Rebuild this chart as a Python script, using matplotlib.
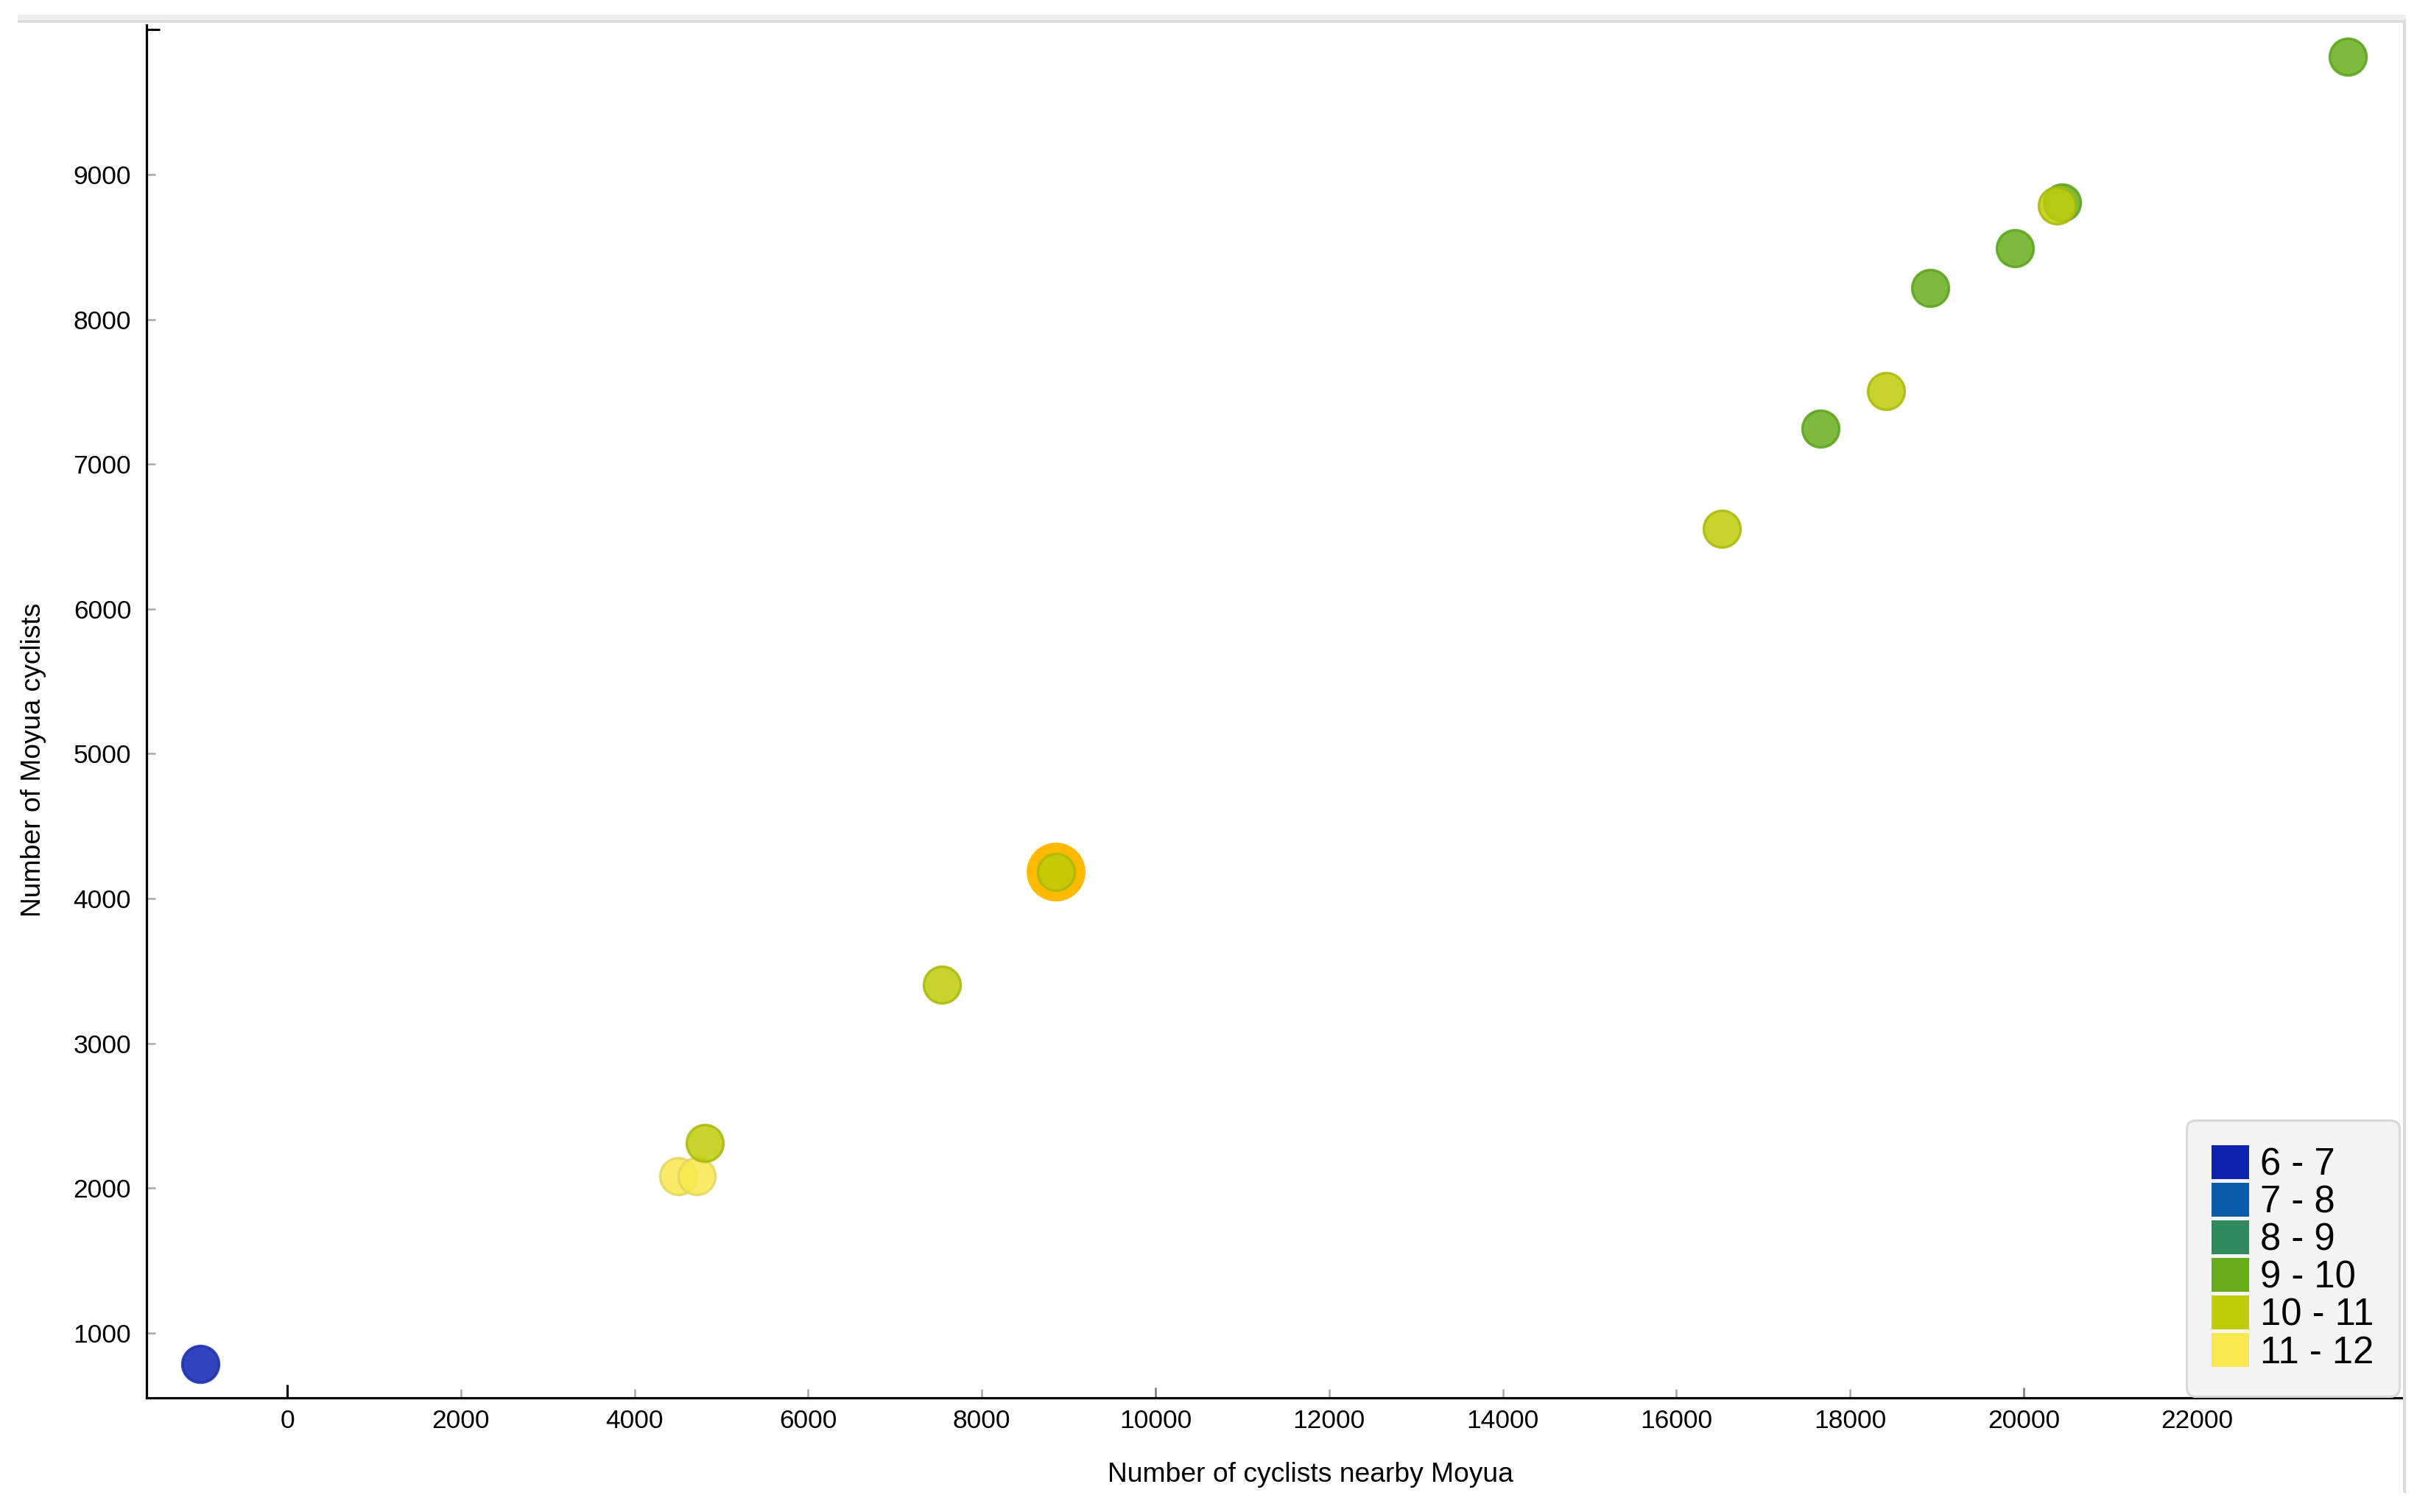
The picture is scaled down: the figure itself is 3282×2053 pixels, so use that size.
import matplotlib
matplotlib.use("Agg")
import matplotlib.pyplot as plt
from matplotlib.patches import Patch, Rectangle

# ---------------- data ----------------
hour_bins = ["6 - 7", "7 - 8", "8 - 9", "9 - 10", "10 - 11", "11 - 12"]
nearby = [-1000, 4500, 4720, 4810, 7540, 8855, 16520, 17660, 18410, 18920, 19900, 20440, 20380, 23730]
moyua = [786, 2083, 2083, 2312, 3405, 4183, 6554, 7245, 7504, 8216, 8493, 8807, 8786, 9814]
point_bin = ["6 - 7", "11 - 12", "11 - 12", "10 - 11", "10 - 11", "10 - 11", "10 - 11",
             "9 - 10", "10 - 11", "9 - 10", "9 - 10", "9 - 10", "10 - 11", "9 - 10"]
selected = [False, False, False, False, False, True, False,
            False, False, False, False, False, False, False]
x_ticks = [0, 2000, 4000, 6000, 8000, 10000, 12000, 14000, 16000, 18000, 20000, 22000, 24000]
x_tick_labels = ["0", "2000", "4000", "6000", "8000", "10000", "12000", "14000",
                 "16000", "18000", "20000", "22000", ""]
y_ticks = [1000, 2000, 3000, 4000, 5000, 6000, 7000, 8000, 9000, 10000]
y_tick_labels = ["1000", "2000", "3000", "4000", "5000", "6000", "7000", "8000", "9000", ""]

# ---------------- style ----------------
bin_colors = {"6 - 7": "#0d22b0", "7 - 8": "#0a5ca8", "8 - 9": "#2f8a5e",
              "9 - 10": "#66ad19", "10 - 11": "#bfcc08", "11 - 12": "#f8e84e"}
bin_edges = {"6 - 7": "#1a30a8", "7 - 8": "#0a4f92", "8 - 9": "#287a52",
             "9 - 10": "#5aa21c", "10 - 11": "#a9b80c", "11 - 12": "#e2d65e"}

plt.rcParams["font.family"] = ["Liberation Sans", "DejaVu Sans"]

W, H = 3282, 2053
fig = plt.figure(figsize=(W / 100, H / 100), dpi=100)
ax_l, ax_r, ax_b, ax_t = 199, 3263, 1898, 34
ax = fig.add_axes([ax_l / W, 1 - ax_b / H, (ax_r - ax_l) / W, (ax_b - ax_t) / H])

ax.set_xlim(-1620, 24368)
ax.set_ylim(552, 10032)

# highlight ring for the selected point
sel_x = [x for x, s in zip(nearby, selected) if s]
sel_y = [y for y, s in zip(moyua, selected) if s]
ax.scatter(sel_x, sel_y, s=3300, color="#ffba00", edgecolors="none", zorder=2)

for x, y, b in zip(nearby, moyua, point_bin):
    ax.scatter([x], [y], s=1300, color=bin_colors[b], alpha=0.85,
               edgecolors=bin_edges[b], linewidths=2.4, zorder=3)

# spines
for side in ("top", "right"):
    ax.spines[side].set_visible(False)
for side in ("left", "bottom"):
    ax.spines[side].set_linewidth(2.3)
    ax.spines[side].set_color("black")

ax.set_xticks(x_ticks, x_tick_labels)
ax.set_yticks(y_ticks, y_tick_labels)
ax.tick_params(axis="both", direction="in", labelsize=25.5, colors="#a8a8a8",
               labelcolor="black", width=1.8, length=8.6)
ax.tick_params(axis="x", pad=11)
ax.tick_params(axis="y", pad=15)

for t, v in zip(ax.xaxis.get_major_ticks(), x_ticks):
    if v == 0:
        t.tick1line.set_markeredgecolor("black")
        t.tick1line.set_markersize(13)
        t.tick1line.set_markeredgewidth(2.2)
    elif v in (10000, 20000):
        t.tick1line.set_markeredgecolor("#777777")
        t.tick1line.set_markersize(10)
for t, v in zip(ax.yaxis.get_major_ticks(), y_ticks):
    if v == 10000:
        t.tick1line.set_markeredgecolor("black")
        t.tick1line.set_markersize(13)
        t.tick1line.set_markeredgewidth(2.2)

ax.set_xlabel("Number of cyclists nearby Moyua", fontsize=26.8)
ax.xaxis.set_label_coords((1779 - ax_l) / (ax_r - ax_l), -(2003 - ax_b) / (ax_b - ax_t))
ax.xaxis.label.set_va("center")
ax.set_ylabel("Number of Moyua cyclists", fontsize=26.8)
ax.yaxis.label.set_va("center")
ax.yaxis.set_label_coords(-(ax_l - 46) / (ax_r - ax_l), (ax_b - 1032) / (ax_b - ax_t))

# legend
handles = [Patch(facecolor=bin_colors[b], edgecolor=bin_colors[b], linewidth=0) for b in hour_bins]
leg = ax.legend(handles, hour_bins, loc="lower right",
                bbox_to_anchor=((3258 - ax_l) / (ax_r - ax_l), (ax_b - 1896) / (ax_b - ax_t)),
                borderaxespad=0, fontsize=36.5, handlelength=1.0, handleheight=1.0,
                handletextpad=0.3, labelspacing=0.0, borderpad=0.68,
                frameon=True, fancybox=True, facecolor="#f4f4f4", edgecolor="#d9d9d9",
                framealpha=1.0)
leg.get_frame().set_linewidth(2.2)
leg.get_frame().set_boxstyle("round", pad=0, rounding_size=0.25)

# window frame decorations
fig.add_artist(Rectangle((24 / W, 1 - 27 / H), (3267 - 24) / W, 7 / H,
                         transform=fig.transFigure, facecolor="#efefef", edgecolor="none"))
fig.add_artist(Rectangle((24 / W, 1 - 31 / H), (3267 - 24) / W, 4 / H,
                         transform=fig.transFigure, facecolor="#dddddd", edgecolor="none"))
fig.add_artist(Rectangle((3263 / W, 1 - 2027 / H), 4 / W, (2027 - 28) / H,
                         transform=fig.transFigure, facecolor="#dcdcdc", edgecolor="none"))

fig.savefig("out.png", dpi=100)
